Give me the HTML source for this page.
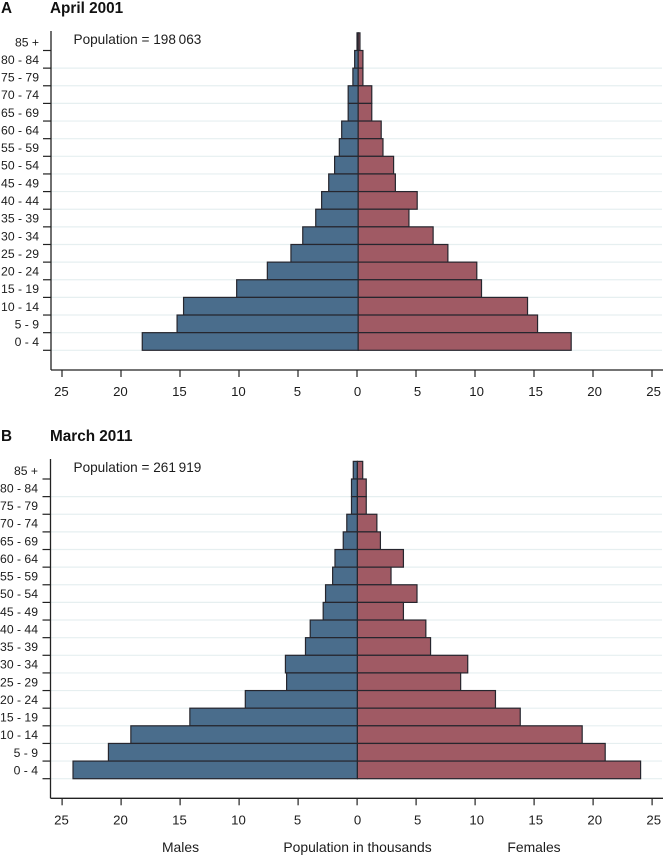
<!DOCTYPE html>
<html>
<head>
<meta charset="utf-8">
<title>Population pyramids</title>
<style>
html,body{margin:0;padding:0;background:#fff;width:666px;height:856px;overflow:hidden}
svg{display:block;font-family:"Liberation Sans",sans-serif;fill:#1c1c1c}
</style>
</head>
<body>
<svg id="chart" width="666" height="856" viewBox="0 0 666 856"></svg>
<script>
const ageGroups = ["85 +","80 - 84","75 - 79","70 - 74","65 - 69","60 - 64","55 - 59","50 - 54","45 - 49","40 - 44","35 - 39","30 - 34","25 - 29","20 - 24","15 - 19","10 - 14","5 - 9","0 - 4"];
const males2001 = [0.1,0.3,0.45,0.85,0.85,1.4,1.6,2.0,2.5,3.1,3.6,4.7,5.7,7.7,10.3,14.8,15.35,18.3];
const females2001 = [0.15,0.4,0.4,1.15,1.15,1.95,2.1,3.0,3.15,5.0,4.3,6.35,7.6,10.05,10.45,14.35,15.2,18.05];
const males2011 = [0.35,0.5,0.5,0.9,1.2,1.9,2.1,2.7,2.9,4.0,4.4,6.1,6.0,9.5,14.2,19.2,21.1,24.1];
const females2011 = [0.45,0.75,0.75,1.65,1.95,3.9,2.85,5.05,3.9,5.8,6.2,9.35,8.75,11.7,13.8,19.05,21.0,24.0];
const xTickValues = [25,20,15,10,5,0,5,10,15,20,25];
const xTickSigns = [-1,-1,-1,-1,-1,0,1,1,1,1,1];

const svg = document.getElementById('chart');
const NS = 'http://www.w3.org/2000/svg';
function mk(tag, attrs, parent, text){
  const el = document.createElementNS(NS, tag);
  for (const k in attrs) el.setAttribute(k, attrs[k]);
  if (text !== undefined) el.textContent = text;
  (parent || svg).appendChild(el);
  return el;
}
function drawPanel(cfg, males, females){
  const g = mk('g', {});
  
  
  const n = ageGroups.length;
  const step = (cfg.bottomTick - cfg.topTick) / (n - 1);
  const yEdge = i => cfg.topTick + step * i;
  const x = v => cfg.zero + v * cfg.scale;
  const tx = v => cfg.tickZero + v * cfg.scale;

  const letter = mk('text', {x:1, y:cfg.titleY, 'font-size':15.3, 'font-weight':'bold', fill:'#111'}, g, cfg.letter);
  
  
  const title = mk('text', {x:50, y:cfg.titleY, 'font-size':15.3, 'font-weight':'bold', fill:'#111'}, g, cfg.title);
  
  

  for (let i = 1; i < n; i++) {
    const line = mk('line', {x1:cfg.axisX, x2:662, y1:yEdge(i), y2:yEdge(i), stroke:'#e6eff0', 'stroke-width':1.2}, g);
    
    
  }

  ageGroups.forEach((label, i) => {
    const top = yEdge(i) - step;
    const bm = mk('rect', {x:x(-males[i]), y:top, width:x(0)-x(-males[i]), height:step, fill:'#4a6d8c', stroke:'#26262e', 'stroke-width':1.2}, g);
    
    
    const bf = mk('rect', {x:x(0), y:top, width:x(females[i])-x(0), height:step, fill:'#a05a64', stroke:'#26262e', 'stroke-width':1.2}, g);
    
    
    const t = mk('text', {x:cfg.labelX, y:yEdge(i) - step/2 + 4.6, 'text-anchor':'end', 'font-size':12.2}, g, label);
    
    
    const tick = mk('line', {x1:cfg.axisX-8, x2:cfg.axisX, y1:yEdge(i), y2:yEdge(i), stroke:'#222', 'stroke-width':1.2}, g);
    
    
  });

  const yAxis = mk('line', {x1:cfg.axisX, x2:cfg.axisX, y1:cfg.axisTop, y2:cfg.axisBottom, stroke:'#222', 'stroke-width':1.3}, g);
  
  
  const xAxis = mk('line', {x1:cfg.axisX, x2:663, y1:cfg.axisBottom, y2:cfg.axisBottom, stroke:'#222', 'stroke-width':1.3}, g);
  
  

  xTickValues.forEach((v, i) => {
    const px = tx(v * xTickSigns[i]);
    const tick = mk('line', {x1:px, x2:px, y1:cfg.axisBottom, y2:cfg.axisBottom + 7, stroke:'#222', 'stroke-width':1.2}, g);
    
    
    const t = mk('text', {x:px + 0.5 + xTickSigns[i] * 1.1, y:cfg.axisBottom + 26, 'text-anchor':'middle', 'font-size':13.2}, g, String(v));
    
    
  });

  const pop = mk('text', {x:73.5, y:cfg.popY, 'font-size':13.6}, g, cfg.pop);
  
  
}

drawPanel({key:'april-2001', letter:'A', title:'April 2001', titleY:13, popY:44, topTick:50.5, bottomTick:350.3, axisX:51, axisTop:31, axisBottom:370, zero:358.2, tickZero:357, scale:11.8, labelX:39, pop:'Population = 198\u2009063'}, males2001, females2001);
drawPanel({key:'march-2011', letter:'B', title:'March 2011', titleY:441, popY:472, topTick:479, bottomTick:778.7, axisX:50.5, axisTop:459, axisBottom:798.3, zero:357.4, tickZero:357.1, scale:11.8, labelX:38, pop:'Population = 261\u2009919'}, males2011, females2011);

const captions = [['Males',180.5,'males-axis-caption'],['Population in thousands',357.5,'x-axis-title'],['Females',534,'females-axis-caption']];
captions.forEach(c => {
  const t = mk('text', {x:c[1], y:852, 'text-anchor':'middle', 'font-size':13.9}, svg, c[0]);
  
  
});
</script>
</body>
</html>
